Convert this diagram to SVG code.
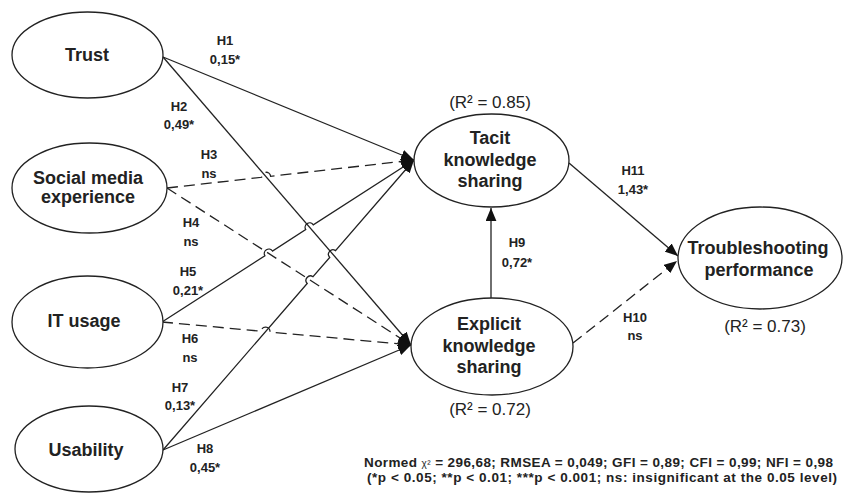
<svg xmlns="http://www.w3.org/2000/svg" width="843" height="493" viewBox="0 0 843 493">
<style>
.node ellipse{fill:#fff;stroke:#222;stroke-width:1.3}
.lbl{font-family:"Liberation Sans",Arial,sans-serif;font-weight:bold;font-size:18px;fill:#222;text-anchor:middle}
.r2{font-family:"Liberation Sans",Arial,sans-serif;font-size:17px;fill:#222;text-anchor:middle}
.el{font-family:"Liberation Sans",Arial,sans-serif;font-weight:bold;font-size:13px;fill:#222;text-anchor:middle}
.note{font-family:"Liberation Sans",Arial,sans-serif;font-weight:bold;font-size:13.5px;fill:#222}
.c path{fill:none;stroke:#222;stroke-width:1.3}
.c path.d{stroke-dasharray:11 6}
</style>
<defs>
<marker id="ah" viewBox="0 0 12 10" refX="12" refY="5" markerWidth="13" markerHeight="11" markerUnits="userSpaceOnUse" orient="auto">
<path d="M0,0 L12,5 L0,10 Z" fill="#111"/>
</marker>
</defs>
<rect width="843" height="493" fill="#fff"/>

<g id="connectors" class="c">
<path id="H1" d="M163,57 L414,160" marker-end="url(#ah)"/>
<path id="H2" d="M163,57 L411,345" marker-end="url(#ah)"/>
<path id="H3" class="d" d="M167,188 L261.6,177.3 A4.5,4.5 0 0 1 270.6,176.3 L414,160" marker-end="url(#ah)"/>
<path id="H4" class="d" d="M167,188 L411,345" marker-end="url(#ah)"/>
<path id="H5" d="M162,322 L264.9,255.8 A4.5,4.5 0 0 1 272.5,251.0 L305.7,229.6 A4.5,4.5 0 0 1 313.3,224.8 L414,160" marker-end="url(#ah)"/>
<path id="H6" class="d" d="M162,322 L261,331.2 A4.5,4.5 0 0 1 270,332 L411,345" marker-end="url(#ah)"/>
<path id="H7" d="M163,450 L307.2,283.5 A4.5,4.5 0 0 1 313,276.7 L329.7,257.4 A4.5,4.5 0 0 1 335.5,250.6 L414,160" marker-end="url(#ah)"/>
<path id="H8" d="M163,450 L411,345" marker-end="url(#ah)"/>
<path id="H9" d="M491,298 L491,208" marker-end="url(#ah)"/>
<path id="H10" class="d" d="M573,343 L677,261" marker-end="url(#ah)"/>
<path id="H11" d="M569,163 L678,256" marker-end="url(#ah)"/>
</g>

<g id="edge-labels">
<text class="el" x="225" y="45">H1</text><text class="el" x="225" y="64">0,15*</text>
<text class="el" x="179" y="111">H2</text><text class="el" x="179" y="129">0,49*</text>
<text class="el" x="209" y="159">H3</text><text class="el" x="209" y="178">ns</text>
<text class="el" x="191" y="227">H4</text><text class="el" x="191" y="246">ns</text>
<text class="el" x="188" y="276">H5</text><text class="el" x="188" y="295">0,21*</text>
<text class="el" x="190" y="343">H6</text><text class="el" x="190" y="362">ns</text>
<text class="el" x="180" y="392">H7</text><text class="el" x="180" y="410">0,13*</text>
<text class="el" x="205" y="453">H8</text><text class="el" x="205" y="472">0,45*</text>
<text class="el" x="517" y="247">H9</text><text class="el" x="517" y="267">0,72*</text>
<text class="el" x="633" y="175">H11</text><text class="el" x="633" y="194">1,43*</text>
<text class="el" x="635" y="322">H10</text><text class="el" x="635" y="340">ns</text>
</g>

<g id="trust" class="node">
<ellipse cx="87.5" cy="55" rx="75.5" ry="43"/>
<text class="lbl" x="87" y="61">Trust</text>
</g>
<g id="social" class="node">
<ellipse cx="89.5" cy="188" rx="77.5" ry="45"/>
<text class="lbl" x="88" y="184">Social media</text>
<text class="lbl" x="88" y="203">experience</text>
</g>
<g id="itusage" class="node">
<ellipse cx="87.5" cy="322" rx="75.5" ry="46"/>
<text class="lbl" x="84" y="327">IT usage</text>
</g>
<g id="usability" class="node">
<ellipse cx="89" cy="449" rx="74" ry="43"/>
<text class="lbl" x="86" y="456">Usability</text>
</g>
<g id="tacit" class="node">
<ellipse cx="491.5" cy="160.5" rx="77.5" ry="46.5"/>
<text class="lbl" x="490" y="144">Tacit</text>
<text class="lbl" x="490" y="166">knowledge</text>
<text class="lbl" x="490" y="187">sharing</text>
<text class="r2" x="490" y="108">(R² = 0.85)</text>
</g>
<g id="explicit" class="node">
<ellipse cx="492" cy="346.5" rx="81" ry="48.5"/>
<text class="lbl" x="489" y="330">Explicit</text>
<text class="lbl" x="489" y="352">knowledge</text>
<text class="lbl" x="489" y="373">sharing</text>
<text class="r2" x="490" y="415">(R² = 0.72)</text>
</g>
<g id="troubleshooting" class="node">
<ellipse cx="760" cy="258" rx="82" ry="51"/>
<text class="lbl" x="758" y="254">Troubleshooting</text>
<text class="lbl" x="759" y="276">performance</text>
<text class="r2" x="765" y="332">(R² = 0.73)</text>
</g>

<g id="footnote">
<text class="note" x="364" y="467" textLength="469" lengthAdjust="spacing">Normed <tspan font-size="10" font-weight="normal">χ²</tspan> = 296,68; RMSEA = 0,049; GFI = 0,89; CFI = 0,99; NFI = 0,98</text>
<text class="note" x="367" y="482" textLength="470" lengthAdjust="spacing">(*p &lt; 0.05; **p &lt; 0.01; ***p &lt; 0.001; ns: insignificant at the 0.05 level)</text>
</g>
</svg>
